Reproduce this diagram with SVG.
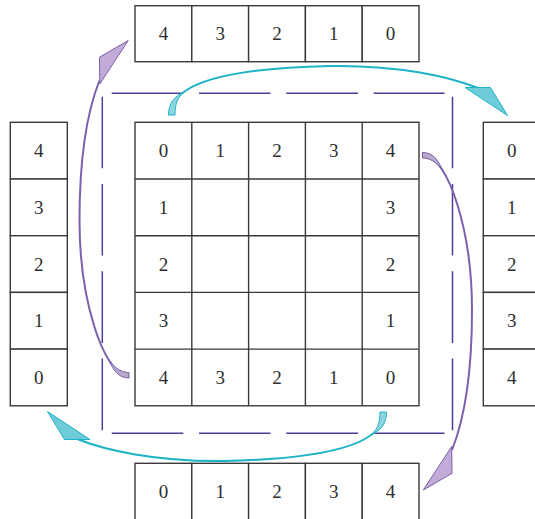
<svg xmlns="http://www.w3.org/2000/svg" width="535" height="519" viewBox="0 0 535 519">
<style>
.c{fill:#fff;stroke:#3a3a3a;stroke-width:1.4}
.t{font-family:"Liberation Serif","Times New Roman",serif;font-size:19px;fill:#2e2e2e;text-anchor:middle}
.d{fill:none;stroke:#4b3f9b;stroke-width:1.5;stroke-dasharray:71.6 15.7}
.cy{fill:none;stroke:#1db3c7;stroke-width:2}
.cyf{fill:#6ecbd8;stroke:#1db3c7;stroke-width:1}
.cyt{fill:#8fd4de;stroke:#1db3c7;stroke-width:1}
.pu{fill:none;stroke:#7b60aa;stroke-width:2}
.puf{fill:#c2aad9;stroke:#7b60aa;stroke-width:1}
.put{fill:#b7aaca;stroke:#7b60aa;stroke-width:1}
</style>
<rect width="535" height="519" fill="#fff"/>

<g id="dashed-frame">
<path class="d" d="M111.7,93.3H444.6M111.7,433.3H444.6M102.3,96.7V430.2M452.5,96.7V430.2"/>
</g>

<g id="top-strip">
<rect class="c" x="135" y="5.7" width="56.8" height="56"/>
<rect class="c" x="191.8" y="5.7" width="56.8" height="56"/>
<rect class="c" x="248.6" y="5.7" width="56.8" height="56"/>
<rect class="c" x="305.4" y="5.7" width="56.8" height="56"/>
<rect class="c" x="362.2" y="5.7" width="56.8" height="56"/>
<text class="t" x="163.4" y="40.2">4</text>
<text class="t" x="220.2" y="40.2">3</text>
<text class="t" x="277" y="40.2">2</text>
<text class="t" x="333.8" y="40.2">1</text>
<text class="t" x="390.6" y="40.2">0</text>
</g>

<g id="left-strip">
<rect class="c" x="10.3" y="122.3" width="57" height="56.7"/>
<rect class="c" x="10.3" y="179" width="57" height="56.7"/>
<rect class="c" x="10.3" y="235.7" width="57" height="56.7"/>
<rect class="c" x="10.3" y="292.4" width="57" height="56.7"/>
<rect class="c" x="10.3" y="349.1" width="57" height="56.7"/>
<text class="t" x="38.8" y="157.1">4</text>
<text class="t" x="38.8" y="213.8">3</text>
<text class="t" x="38.8" y="270.5">2</text>
<text class="t" x="38.8" y="327.2">1</text>
<text class="t" x="38.8" y="383.9">0</text>
</g>

<g id="right-strip">
<rect class="c" x="483.3" y="122.3" width="57" height="56.7"/>
<rect class="c" x="483.3" y="179" width="57" height="56.7"/>
<rect class="c" x="483.3" y="235.7" width="57" height="56.7"/>
<rect class="c" x="483.3" y="292.4" width="57" height="56.7"/>
<rect class="c" x="483.3" y="349.1" width="57" height="56.7"/>
<text class="t" x="511.7" y="157.1">0</text>
<text class="t" x="511.7" y="213.8">1</text>
<text class="t" x="511.7" y="270.5">2</text>
<text class="t" x="511.7" y="327.2">3</text>
<text class="t" x="511.7" y="383.9">4</text>
</g>

<g id="bottom-strip">
<rect class="c" x="135" y="463.3" width="56.8" height="60"/>
<rect class="c" x="191.8" y="463.3" width="56.8" height="60"/>
<rect class="c" x="248.6" y="463.3" width="56.8" height="60"/>
<rect class="c" x="305.4" y="463.3" width="56.8" height="60"/>
<rect class="c" x="362.2" y="463.3" width="56.8" height="60"/>
<text class="t" x="163.4" y="498">0</text>
<text class="t" x="220.2" y="498">1</text>
<text class="t" x="277" y="498">2</text>
<text class="t" x="333.8" y="498">3</text>
<text class="t" x="390.6" y="498">4</text>
</g>

<g id="main-grid">
<rect class="c" x="135" y="122.3" width="284" height="283.5"/>
<path fill="none" stroke="#3a3a3a" stroke-width="1.4" d="M191.8,122.3V405.8M248.6,122.3V405.8M305.4,122.3V405.8M362.2,122.3V405.8M135,179H419M135,235.7H419M135,292.4H419M135,349.1H419"/>
<text class="t" x="163.4" y="157.1">0</text>
<text class="t" x="220.2" y="157.1">1</text>
<text class="t" x="277" y="157.1">2</text>
<text class="t" x="333.8" y="157.1">3</text>
<text class="t" x="390.6" y="157.1">4</text>
<text class="t" x="163.4" y="213.8">1</text>
<text class="t" x="390.6" y="213.8">3</text>
<text class="t" x="163.4" y="270.5">2</text>
<text class="t" x="390.6" y="270.5">2</text>
<text class="t" x="163.4" y="327.2">3</text>
<text class="t" x="390.6" y="327.2">1</text>
<text class="t" x="163.4" y="383.9">4</text>
<text class="t" x="220.2" y="383.9">3</text>
<text class="t" x="277" y="383.9">2</text>
<text class="t" x="333.8" y="383.9">1</text>
<text class="t" x="390.6" y="383.9">0</text>
</g>

<g id="connectors">
<g id="arrow-top">
<path class="cy" d="M172,112 C173,80 240,68 330,66 C400,65 450,77 478,88"/>
<path class="cyt" d="M168.5,115 C168.5,104 174,96 184.5,91.7 C177,97 175,105 175,115 Z"/>
<polygon class="cyf" points="465,87.5 490.5,87.5 507.5,115.5"/>
</g>
<g id="arrow-bottom" transform="rotate(180 277.5 263.5)">
<path class="cy" d="M172,112 C173,80 240,68 330,66 C400,65 450,77 478,88"/>
<path class="cyt" d="M168.5,115 C168.5,104 174,96 184.5,91.7 C177,97 175,105 175,115 Z"/>
<polygon class="cyf" points="465,87.5 490.5,87.5 507.5,115.5"/>
</g>
<g id="arrow-right">
<path class="pu" d="M425,155.5 C448,158 472,230 472,310 C472,380 462,425 452,450"/>
<path class="put" d="M422.5,152.5 C433,152.5 438,160 442.1,169.4 C436,162 430,158 422.5,158 Z"/>
<polygon class="puf" points="451.7,446.5 452,473.3 423.3,490"/>
</g>
<g id="arrow-left" transform="translate(-3.5,3.5) rotate(180 277.5 263.5)">
<path class="pu" d="M425,155.5 C448,158 472,230 472,310 C472,380 462,425 452,450"/>
<path class="put" d="M422.5,152.5 C433,152.5 438,160 442.1,169.4 C436,162 430,158 422.5,158 Z"/>
<polygon class="puf" points="451.7,446.5 452,473.3 423.3,490"/>
</g>
</g>
</svg>
